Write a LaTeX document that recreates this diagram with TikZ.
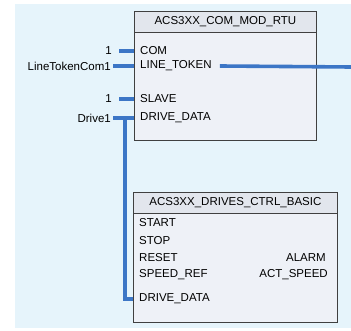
\documentclass[tikz,border=0pt]{standalone}
\usepackage{fontspec}
\setmainfont{Liberation Sans}
\usetikzlibrary{positioning}

\definecolor{sheetblue}{RGB}{230,244,251}
\definecolor{blockfill}{RGB}{238,241,247}
\definecolor{headfill}{RGB}{226,230,237}
\definecolor{wireblue}{RGB}{60,118,198}

\tikzset{
  fblock/.style={draw=black!75, fill=blockfill, line width=0.8pt, anchor=north west, inner sep=0pt},
  fhead/.style={draw=black!75, fill=headfill, line width=0.8pt, anchor=north west, inner sep=0pt, minimum height=21pt, font=\fontsize{11.5}{13}\selectfont},
  pinlabel/.style={font=\fontsize{11.5}{13}\selectfont, inner sep=0pt, anchor=west},
  pinvalue/.style={font=\fontsize{11.5}{13}\selectfont, inner sep=0pt, anchor=east},
  wire/.style={wireblue, line width=3.6pt},
}

\begin{document}
\begin{tikzpicture}[x=1pt,y=-1pt]
        \useasboundingbox (0,0) rectangle (351,331);
        % Sheet
        \fill[sheetblue] (15,4) rectangle (351,328);

        % Block ACS3XX_COM_MOD_RTU
        \node[fblock, minimum width=182pt, minimum height=129pt] (rtu) at (134,11) {};
        \node[fhead, minimum width=182pt] (rtuhead) at (rtu.north west) {ACS3XX\_COM\_MOD\_RTU};
        \node[pinlabel] (com) at (140,51) {COM};
        \node[pinlabel] (linetoken) at (140,66) {LINE\_TOKEN};
        \node[pinlabel] (slave) at (140,99) {SLAVE};
        \node[pinlabel] (drivedata) at (140,118) {DRIVE\_DATA};

        % Values on the inputs
        \node[pinvalue] (comval) at (112,51) {1};
        \node[pinvalue] (tokenval) at (111,66) {LineTokenCom1};
        \node[pinvalue] (slaveval) at (112,99) {1};
        \node[pinvalue] (driveval) at (111,118) {Drive1};

        % Block ACS3XX_DRIVES_CTRL_BASIC
        \node[fblock, minimum width=204pt, minimum height=130pt] (ctrl) at (133,192) {};
        \node[fhead, minimum width=204pt] (ctrlhead) at (ctrl.north west) {ACS3XX\_DRIVES\_CTRL\_BASIC};
        \node[pinlabel] (start) at (139,223) {START};
        \node[pinlabel] (stop) at (139,241) {STOP};
        \node[pinlabel] (reset) at (139,258) {RESET};
        \node[pinlabel] (speedref) at (139,275) {SPEED\_REF};
        \node[pinlabel] (drivein) at (139,299) {DRIVE\_DATA};
        \node[pinvalue] (alarm) at (326,258) {ALARM};
        \node[pinvalue] (actspeed) at (328,275) {ACT\_SPEED};

        % Wires
        \draw[wire] ([xshift=7pt]comval.east) -- (comval -| rtu.west);
        \draw[wire] ([xshift=2pt]tokenval.east) -- (tokenval -| rtu.west);
        \draw[wire] ([xshift=7pt]slaveval.east) -- (slaveval -| rtu.west);
        \draw[wire] ([xshift=2pt]driveval.east) -- (driveval -| rtu.west);
        \coordinate (tokenout) at (351,67);
        \draw[wire] ([xshift=8pt]linetoken.east) -- (tokenout);
        \coordinate (drivetap) at (125,118);
        \draw[wire] (drivetap) |- (drivein -| ctrl.west);
\end{tikzpicture}
\end{document}
